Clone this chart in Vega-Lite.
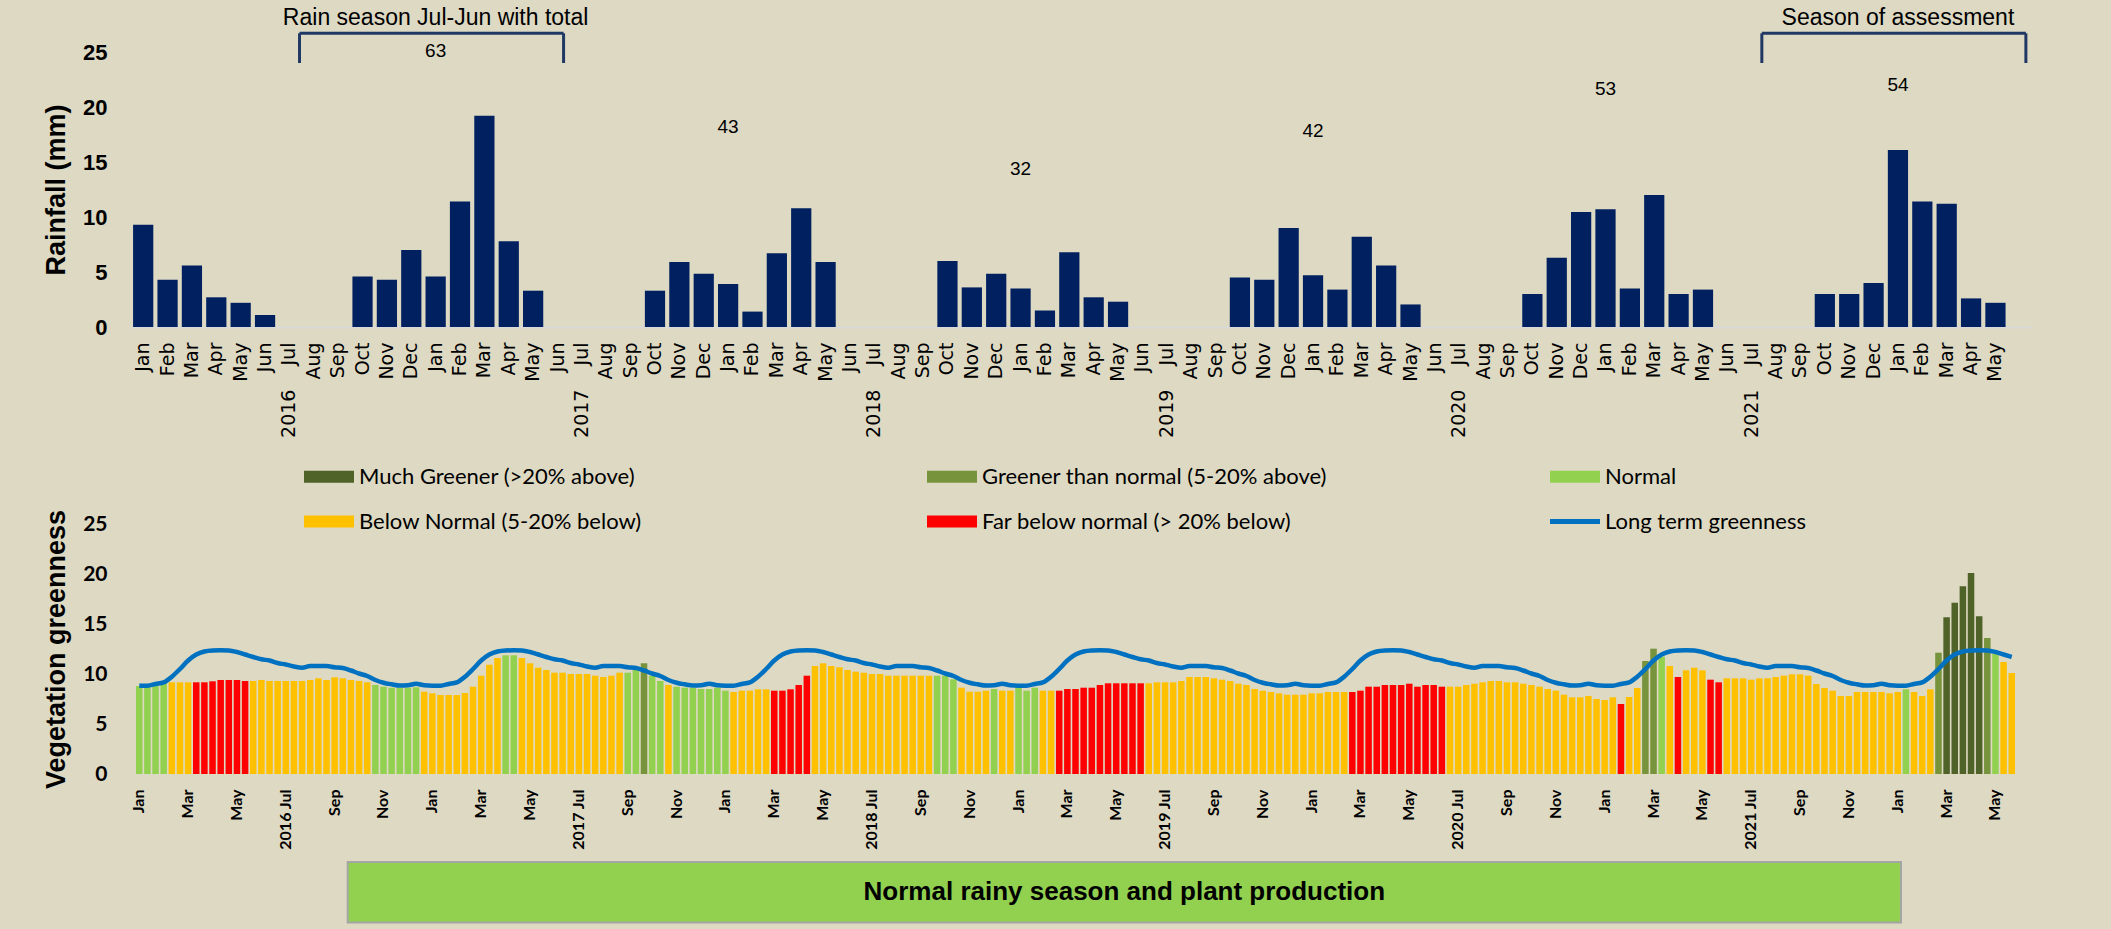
{
"$schema":"https://vega.github.io/schema/vega-lite/v6.json",
"background":"#DDD9C3",
"padding":{"left":42,"top":6,"right":80,"bottom":7},
"bounds":"flush",
"spacing":197,
"config":{"view":{"stroke":null},"font":"Liberation Sans","axis":{"labelColor":"#000000","titleColor":"#000000","grid":false}},
"datasets":{
"rain":[{"m":"2016-01","rain":9.3},{"m":"2016-02","rain":4.3},{"m":"2016-03","rain":5.6},{"m":"2016-04","rain":2.7},{"m":"2016-05","rain":2.2},{"m":"2016-06","rain":1.1},{"m":"2016-07","rain":0},{"m":"2016-08","rain":0},{"m":"2016-09","rain":0},{"m":"2016-10","rain":4.6},{"m":"2016-11","rain":4.3},{"m":"2016-12","rain":7.0},
{"m":"2017-01","rain":4.6},{"m":"2017-02","rain":11.4},{"m":"2017-03","rain":19.2},{"m":"2017-04","rain":7.8},{"m":"2017-05","rain":3.3},{"m":"2017-06","rain":0},{"m":"2017-07","rain":0},{"m":"2017-08","rain":0},{"m":"2017-09","rain":0},{"m":"2017-10","rain":3.3},{"m":"2017-11","rain":5.9},{"m":"2017-12","rain":4.85},
{"m":"2018-01","rain":3.9},{"m":"2018-02","rain":1.4},{"m":"2018-03","rain":6.7},{"m":"2018-04","rain":10.8},{"m":"2018-05","rain":5.9},{"m":"2018-06","rain":0},{"m":"2018-07","rain":0},{"m":"2018-08","rain":0},{"m":"2018-09","rain":0},{"m":"2018-10","rain":6.0},{"m":"2018-11","rain":3.6},{"m":"2018-12","rain":4.85},
{"m":"2019-01","rain":3.5},{"m":"2019-02","rain":1.5},{"m":"2019-03","rain":6.8},{"m":"2019-04","rain":2.7},{"m":"2019-05","rain":2.3},{"m":"2019-06","rain":0},{"m":"2019-07","rain":0},{"m":"2019-08","rain":0},{"m":"2019-09","rain":0},{"m":"2019-10","rain":4.5},{"m":"2019-11","rain":4.3},{"m":"2019-12","rain":9.0},
{"m":"2020-01","rain":4.7},{"m":"2020-02","rain":3.4},{"m":"2020-03","rain":8.2},{"m":"2020-04","rain":5.6},{"m":"2020-05","rain":2.05},{"m":"2020-06","rain":0},{"m":"2020-07","rain":0},{"m":"2020-08","rain":0},{"m":"2020-09","rain":0},{"m":"2020-10","rain":3.0},{"m":"2020-11","rain":6.3},{"m":"2020-12","rain":10.45},
{"m":"2021-01","rain":10.7},{"m":"2021-02","rain":3.5},{"m":"2021-03","rain":12.0},{"m":"2021-04","rain":3.0},{"m":"2021-05","rain":3.4},{"m":"2021-06","rain":0},{"m":"2021-07","rain":0},{"m":"2021-08","rain":0},{"m":"2021-09","rain":0},{"m":"2021-10","rain":3.0},{"m":"2021-11","rain":3.0},{"m":"2021-12","rain":4.0},
{"m":"2022-01","rain":16.1},{"m":"2022-02","rain":11.4},{"m":"2022-03","rain":11.2},{"m":"2022-04","rain":2.6},{"m":"2022-05","rain":2.2}],
"seasons":[{"s":"2016-07","e":"2017-06","m":"2017-01","label":"Rain season Jul-Jun with total"},{"s":"2021-07","e":"2022-06","m":"2022-01","label":"Season of assessment"}],
"totals":[{"m":"2017-01","t":63},{"m":"2018-01","t":43},{"m":"2019-01","t":32},{"m":"2020-01","t":42},{"m":"2021-01","t":53},{"m":"2022-01","t":54}],
"veg":[
{"d":"2016-01-1","v":8.8,"c":"N","lt":8.83},{"d":"2016-01-2","v":8.8,"c":"N","lt":8.83},{"d":"2016-01-3","v":8.97,"c":"N","lt":9.0},
{"d":"2016-02-1","v":9.07,"c":"N","lt":9.17},{"d":"2016-02-2","v":9.17,"c":"BN","lt":9.73},{"d":"2016-02-3","v":9.17,"c":"BN","lt":10.5},
{"d":"2016-03-1","v":9.17,"c":"BN","lt":11.35},{"d":"2016-03-2","v":9.17,"c":"FB","lt":11.95},{"d":"2016-03-3","v":9.17,"c":"FB","lt":12.25},
{"d":"2016-04-1","v":9.27,"c":"FB","lt":12.35},{"d":"2016-04-2","v":9.4,"c":"FB","lt":12.37},{"d":"2016-04-3","v":9.4,"c":"FB","lt":12.35},
{"d":"2016-05-1","v":9.4,"c":"FB","lt":12.2},{"d":"2016-05-2","v":9.3,"c":"FB","lt":11.95},{"d":"2016-05-3","v":9.3,"c":"BN","lt":11.7},
{"d":"2016-06-1","v":9.4,"c":"BN","lt":11.47},{"d":"2016-06-2","v":9.3,"c":"BN","lt":11.35},{"d":"2016-06-3","v":9.3,"c":"BN","lt":11.1},
{"d":"2016-07-1","v":9.3,"c":"BN","lt":10.95},{"d":"2016-07-2","v":9.3,"c":"BN","lt":10.75},{"d":"2016-07-3","v":9.3,"c":"BN","lt":10.63},
{"d":"2016-08-1","v":9.4,"c":"BN","lt":10.8},{"d":"2016-08-2","v":9.57,"c":"BN","lt":10.8},{"d":"2016-08-3","v":9.4,"c":"BN","lt":10.8},
{"d":"2016-09-1","v":9.67,"c":"BN","lt":10.67},{"d":"2016-09-2","v":9.57,"c":"BN","lt":10.6},{"d":"2016-09-3","v":9.4,"c":"BN","lt":10.35},
{"d":"2016-10-1","v":9.3,"c":"BN","lt":10.05},{"d":"2016-10-2","v":9.17,"c":"BN","lt":9.8},{"d":"2016-10-3","v":8.9,"c":"N","lt":9.4},
{"d":"2016-11-1","v":8.73,"c":"N","lt":9.13},{"d":"2016-11-2","v":8.63,"c":"N","lt":8.97},{"d":"2016-11-3","v":8.63,"c":"N","lt":8.85},
{"d":"2016-12-1","v":8.63,"c":"N","lt":8.87},{"d":"2016-12-2","v":8.67,"c":"N","lt":9.03},{"d":"2016-12-3","v":8.23,"c":"BN","lt":8.87},
{"d":"2017-01-1","v":8.07,"c":"BN","lt":8.83},{"d":"2017-01-2","v":7.9,"c":"BN","lt":8.83},{"d":"2017-01-3","v":7.9,"c":"BN","lt":9.0},
{"d":"2017-02-1","v":7.9,"c":"BN","lt":9.17},{"d":"2017-02-2","v":8.1,"c":"BN","lt":9.73},{"d":"2017-02-3","v":8.73,"c":"BN","lt":10.5},
{"d":"2017-03-1","v":9.83,"c":"BN","lt":11.35},{"d":"2017-03-2","v":10.93,"c":"BN","lt":11.95},{"d":"2017-03-3","v":11.6,"c":"BN","lt":12.25},
{"d":"2017-04-1","v":11.87,"c":"N","lt":12.35},{"d":"2017-04-2","v":11.87,"c":"N","lt":12.37},{"d":"2017-04-3","v":11.6,"c":"BN","lt":12.35},
{"d":"2017-05-1","v":11.07,"c":"BN","lt":12.2},{"d":"2017-05-2","v":10.63,"c":"BN","lt":11.95},{"d":"2017-05-3","v":10.4,"c":"BN","lt":11.7},
{"d":"2017-06-1","v":10.13,"c":"BN","lt":11.47},{"d":"2017-06-2","v":10.13,"c":"BN","lt":11.35},{"d":"2017-06-3","v":10.0,"c":"BN","lt":11.1},
{"d":"2017-07-1","v":10.0,"c":"BN","lt":10.95},{"d":"2017-07-2","v":10.0,"c":"BN","lt":10.75},{"d":"2017-07-3","v":9.83,"c":"BN","lt":10.63},
{"d":"2017-08-1","v":9.7,"c":"BN","lt":10.8},{"d":"2017-08-2","v":9.83,"c":"BN","lt":10.8},{"d":"2017-08-3","v":10.13,"c":"BN","lt":10.8},
{"d":"2017-09-1","v":10.13,"c":"N","lt":10.67},{"d":"2017-09-2","v":10.4,"c":"N","lt":10.6},{"d":"2017-09-3","v":11.07,"c":"GN","lt":10.35},
{"d":"2017-10-1","v":9.83,"c":"N","lt":10.05},{"d":"2017-10-2","v":9.3,"c":"N","lt":9.8},{"d":"2017-10-3","v":8.9,"c":"BN","lt":9.4},
{"d":"2017-11-1","v":8.73,"c":"N","lt":9.13},{"d":"2017-11-2","v":8.63,"c":"N","lt":8.97},{"d":"2017-11-3","v":8.63,"c":"N","lt":8.85},
{"d":"2017-12-1","v":8.5,"c":"N","lt":8.87},{"d":"2017-12-2","v":8.5,"c":"N","lt":9.03},{"d":"2017-12-3","v":8.63,"c":"N","lt":8.87},
{"d":"2018-01-1","v":8.33,"c":"N","lt":8.83},{"d":"2018-01-2","v":8.2,"c":"BN","lt":8.83},{"d":"2018-01-3","v":8.33,"c":"BN","lt":9.0},
{"d":"2018-02-1","v":8.33,"c":"BN","lt":9.17},{"d":"2018-02-2","v":8.47,"c":"BN","lt":9.73},{"d":"2018-02-3","v":8.47,"c":"BN","lt":10.5},
{"d":"2018-03-1","v":8.33,"c":"FB","lt":11.35},{"d":"2018-03-2","v":8.33,"c":"FB","lt":11.95},{"d":"2018-03-3","v":8.47,"c":"FB","lt":12.25},
{"d":"2018-04-1","v":8.9,"c":"FB","lt":12.35},{"d":"2018-04-2","v":9.83,"c":"FB","lt":12.37},{"d":"2018-04-3","v":10.8,"c":"BN","lt":12.35},
{"d":"2018-05-1","v":11.07,"c":"BN","lt":12.2},{"d":"2018-05-2","v":10.8,"c":"BN","lt":11.95},{"d":"2018-05-3","v":10.67,"c":"BN","lt":11.7},
{"d":"2018-06-1","v":10.4,"c":"BN","lt":11.47},{"d":"2018-06-2","v":10.23,"c":"BN","lt":11.35},{"d":"2018-06-3","v":10.13,"c":"BN","lt":11.1},
{"d":"2018-07-1","v":10.0,"c":"BN","lt":10.95},{"d":"2018-07-2","v":10.0,"c":"BN","lt":10.75},{"d":"2018-07-3","v":9.83,"c":"BN","lt":10.63},
{"d":"2018-08-1","v":9.83,"c":"BN","lt":10.8},{"d":"2018-08-2","v":9.83,"c":"BN","lt":10.8},{"d":"2018-08-3","v":9.83,"c":"BN","lt":10.8},
{"d":"2018-09-1","v":9.83,"c":"BN","lt":10.67},{"d":"2018-09-2","v":9.83,"c":"BN","lt":10.6},{"d":"2018-09-3","v":9.83,"c":"N","lt":10.35},
{"d":"2018-10-1","v":9.83,"c":"N","lt":10.05},{"d":"2018-10-2","v":9.47,"c":"N","lt":9.8},{"d":"2018-10-3","v":8.63,"c":"BN","lt":9.4},
{"d":"2018-11-1","v":8.23,"c":"BN","lt":9.13},{"d":"2018-11-2","v":8.23,"c":"BN","lt":8.97},{"d":"2018-11-3","v":8.33,"c":"BN","lt":8.85},
{"d":"2018-12-1","v":8.5,"c":"N","lt":8.87},{"d":"2018-12-2","v":8.33,"c":"BN","lt":9.03},{"d":"2018-12-3","v":8.33,"c":"BN","lt":8.87},
{"d":"2019-01-1","v":8.63,"c":"N","lt":8.83},{"d":"2019-01-2","v":8.33,"c":"N","lt":8.83},{"d":"2019-01-3","v":8.63,"c":"N","lt":9.0},
{"d":"2019-02-1","v":8.33,"c":"BN","lt":9.17},{"d":"2019-02-2","v":8.33,"c":"BN","lt":9.73},{"d":"2019-02-3","v":8.33,"c":"FB","lt":10.5},
{"d":"2019-03-1","v":8.5,"c":"FB","lt":11.35},{"d":"2019-03-2","v":8.5,"c":"FB","lt":11.95},{"d":"2019-03-3","v":8.63,"c":"FB","lt":12.25},
{"d":"2019-04-1","v":8.63,"c":"FB","lt":12.35},{"d":"2019-04-2","v":8.9,"c":"FB","lt":12.37},{"d":"2019-04-3","v":9.07,"c":"FB","lt":12.35},
{"d":"2019-05-1","v":9.07,"c":"FB","lt":12.2},{"d":"2019-05-2","v":9.07,"c":"FB","lt":11.95},{"d":"2019-05-3","v":9.07,"c":"FB","lt":11.7},
{"d":"2019-06-1","v":9.07,"c":"FB","lt":11.47},{"d":"2019-06-2","v":9.07,"c":"BN","lt":11.35},{"d":"2019-06-3","v":9.17,"c":"BN","lt":11.1},
{"d":"2019-07-1","v":9.17,"c":"BN","lt":10.95},{"d":"2019-07-2","v":9.17,"c":"BN","lt":10.75},{"d":"2019-07-3","v":9.3,"c":"BN","lt":10.63},
{"d":"2019-08-1","v":9.7,"c":"BN","lt":10.8},{"d":"2019-08-2","v":9.7,"c":"BN","lt":10.8},{"d":"2019-08-3","v":9.7,"c":"BN","lt":10.8},
{"d":"2019-09-1","v":9.57,"c":"BN","lt":10.67},{"d":"2019-09-2","v":9.43,"c":"BN","lt":10.6},{"d":"2019-09-3","v":9.3,"c":"BN","lt":10.35},
{"d":"2019-10-1","v":9.03,"c":"BN","lt":10.05},{"d":"2019-10-2","v":8.9,"c":"BN","lt":9.8},{"d":"2019-10-3","v":8.5,"c":"BN","lt":9.4},
{"d":"2019-11-1","v":8.33,"c":"BN","lt":9.13},{"d":"2019-11-2","v":8.2,"c":"BN","lt":8.97},{"d":"2019-11-3","v":8.07,"c":"BN","lt":8.85},
{"d":"2019-12-1","v":7.93,"c":"BN","lt":8.87},{"d":"2019-12-2","v":7.93,"c":"BN","lt":9.03},{"d":"2019-12-3","v":7.93,"c":"BN","lt":8.87},
{"d":"2020-01-1","v":8.07,"c":"BN","lt":8.83},{"d":"2020-01-2","v":8.07,"c":"BN","lt":8.83},{"d":"2020-01-3","v":8.2,"c":"BN","lt":9.0},
{"d":"2020-02-1","v":8.2,"c":"BN","lt":9.17},{"d":"2020-02-2","v":8.2,"c":"BN","lt":9.73},{"d":"2020-02-3","v":8.2,"c":"FB","lt":10.5},
{"d":"2020-03-1","v":8.33,"c":"FB","lt":11.35},{"d":"2020-03-2","v":8.73,"c":"FB","lt":11.95},{"d":"2020-03-3","v":8.73,"c":"FB","lt":12.25},
{"d":"2020-04-1","v":8.9,"c":"FB","lt":12.35},{"d":"2020-04-2","v":8.9,"c":"FB","lt":12.37},{"d":"2020-04-3","v":8.9,"c":"FB","lt":12.35},
{"d":"2020-05-1","v":9.03,"c":"FB","lt":12.2},{"d":"2020-05-2","v":8.73,"c":"FB","lt":11.95},{"d":"2020-05-3","v":8.9,"c":"FB","lt":11.7},
{"d":"2020-06-1","v":8.9,"c":"FB","lt":11.47},{"d":"2020-06-2","v":8.73,"c":"FB","lt":11.35},{"d":"2020-06-3","v":8.73,"c":"BN","lt":11.1},
{"d":"2020-07-1","v":8.73,"c":"BN","lt":10.95},{"d":"2020-07-2","v":8.9,"c":"BN","lt":10.75},{"d":"2020-07-3","v":9.03,"c":"BN","lt":10.63},
{"d":"2020-08-1","v":9.17,"c":"BN","lt":10.8},{"d":"2020-08-2","v":9.3,"c":"BN","lt":10.8},{"d":"2020-08-3","v":9.3,"c":"BN","lt":10.8},
{"d":"2020-09-1","v":9.17,"c":"BN","lt":10.67},{"d":"2020-09-2","v":9.17,"c":"BN","lt":10.6},{"d":"2020-09-3","v":9.03,"c":"BN","lt":10.35},
{"d":"2020-10-1","v":8.9,"c":"BN","lt":10.05},{"d":"2020-10-2","v":8.73,"c":"BN","lt":9.8},{"d":"2020-10-3","v":8.5,"c":"BN","lt":9.4},
{"d":"2020-11-1","v":8.33,"c":"BN","lt":9.13},{"d":"2020-11-2","v":7.93,"c":"BN","lt":8.97},{"d":"2020-11-3","v":7.67,"c":"BN","lt":8.85},
{"d":"2020-12-1","v":7.67,"c":"BN","lt":8.87},{"d":"2020-12-2","v":7.8,"c":"BN","lt":9.03},{"d":"2020-12-3","v":7.5,"c":"BN","lt":8.87},
{"d":"2021-01-1","v":7.4,"c":"BN","lt":8.83},{"d":"2021-01-2","v":7.67,"c":"BN","lt":8.83},{"d":"2021-01-3","v":7.0,"c":"FB","lt":9.0},
{"d":"2021-02-1","v":7.7,"c":"BN","lt":9.17},{"d":"2021-02-2","v":8.6,"c":"BN","lt":9.73},{"d":"2021-02-3","v":11.3,"c":"GN","lt":10.5},
{"d":"2021-03-1","v":12.53,"c":"GN","lt":11.35},{"d":"2021-03-2","v":11.73,"c":"N","lt":11.95},{"d":"2021-03-3","v":10.8,"c":"BN","lt":12.25},
{"d":"2021-04-1","v":9.7,"c":"FB","lt":12.35},{"d":"2021-04-2","v":10.37,"c":"BN","lt":12.37},{"d":"2021-04-3","v":10.63,"c":"BN","lt":12.35},
{"d":"2021-05-1","v":10.37,"c":"BN","lt":12.2},{"d":"2021-05-2","v":9.43,"c":"FB","lt":11.95},{"d":"2021-05-3","v":9.17,"c":"FB","lt":11.7},
{"d":"2021-06-1","v":9.57,"c":"BN","lt":11.47},{"d":"2021-06-2","v":9.57,"c":"BN","lt":11.35},{"d":"2021-06-3","v":9.57,"c":"BN","lt":11.1},
{"d":"2021-07-1","v":9.43,"c":"BN","lt":10.95},{"d":"2021-07-2","v":9.57,"c":"BN","lt":10.75},{"d":"2021-07-3","v":9.57,"c":"BN","lt":10.63},
{"d":"2021-08-1","v":9.7,"c":"BN","lt":10.8},{"d":"2021-08-2","v":9.83,"c":"BN","lt":10.8},{"d":"2021-08-3","v":9.97,"c":"BN","lt":10.8},
{"d":"2021-09-1","v":9.97,"c":"BN","lt":10.67},{"d":"2021-09-2","v":9.83,"c":"BN","lt":10.6},{"d":"2021-09-3","v":9.0,"c":"BN","lt":10.35},
{"d":"2021-10-1","v":8.6,"c":"BN","lt":10.05},{"d":"2021-10-2","v":8.33,"c":"BN","lt":9.8},{"d":"2021-10-3","v":7.8,"c":"BN","lt":9.4},
{"d":"2021-11-1","v":7.8,"c":"BN","lt":9.13},{"d":"2021-11-2","v":8.2,"c":"BN","lt":8.97},{"d":"2021-11-3","v":8.2,"c":"BN","lt":8.85},
{"d":"2021-12-1","v":8.2,"c":"BN","lt":8.87},{"d":"2021-12-2","v":8.2,"c":"BN","lt":9.03},{"d":"2021-12-3","v":8.07,"c":"BN","lt":8.87},
{"d":"2022-01-1","v":8.2,"c":"BN","lt":8.83},{"d":"2022-01-2","v":8.47,"c":"N","lt":8.83},{"d":"2022-01-3","v":8.2,"c":"BN","lt":9.0},
{"d":"2022-02-1","v":7.8,"c":"BN","lt":9.17},{"d":"2022-02-2","v":8.47,"c":"BN","lt":9.73},{"d":"2022-02-3","v":12.13,"c":"GN","lt":10.5},
{"d":"2022-03-1","v":15.67,"c":"MG","lt":11.35},{"d":"2022-03-2","v":17.13,"c":"MG","lt":11.95},{"d":"2022-03-3","v":18.77,"c":"MG","lt":12.25},
{"d":"2022-04-1","v":20.1,"c":"MG","lt":12.35},{"d":"2022-04-2","v":15.77,"c":"MG","lt":12.37},{"d":"2022-04-3","v":13.6,"c":"GN","lt":12.35},
{"d":"2022-05-1","v":12.0,"c":"N","lt":12.2},{"d":"2022-05-2","v":11.2,"c":"BN","lt":11.95},{"d":"2022-05-3","v":10.1,"c":"BN","lt":11.7}
]
},
"vconcat":[
{
"width":1901,"height":275,
"resolve":{"scale":{"y":"independent"}},
"layer":[
{"layer":[
{"data":{"name":"rain"},"mark":{"type":"bar","color":"#002060"},
"encoding":{
"x":{"field":"m","type":"ordinal","title":null,"scale":{"paddingInner":0.17,"paddingOuter":0.085},
"axis":{"labelAngle":270,"labelAlign":"right","labelBaseline":"middle","labelFont":"DejaVu Sans","labelFontSize":19,"labelPadding":15,"ticks":false,"domainColor":"#D9D9D9","domainWidth":2,"labelOverlap":false,"labelLimit":400,
"labelExpr":"datum.value == '2022-06' ? '' : substring(datum.value,5,7) == '07' ? substring(datum.value,0,4) + '\u00a0\u00a0\u00a0\u00a0Jul' : ['Jan','Feb','Mar','Apr','May','Jun','Jul','Aug','Sep','Oct','Nov','Dec'][toNumber(substring(datum.value,5,7)) - 1]"}},
"y":{"field":"rain","type":"quantitative","scale":{"domain":[0,25],"nice":false},
"axis":{"title":"Rainfall (mm)","titleFont":"Liberation Sans","titleFontSize":27,"titleFontWeight":"bold","titlePadding":12,"values":[0,5,10,15,20,25],"labelFont":"Liberation Sans","labelFontSize":22,"labelFontWeight":"bold","labelPadding":24,"ticks":false,"domain":false}}
}},
{"data":{"name":"seasons"},"mark":{"type":"rule","color":"#1F3864","strokeWidth":3},
"encoding":{"x":{"field":"s","type":"ordinal","bandPosition":1,"title":null},"x2":{"field":"e","bandPosition":0.8},"y":{"datum":26.7}}},
{"data":{"name":"seasons"},"mark":{"type":"rule","color":"#1F3864","strokeWidth":3},
"encoding":{"x":{"field":"s","type":"ordinal","bandPosition":1,"title":null},"y":{"datum":24.0},"y2":{"datum":26.7}}},
{"data":{"name":"seasons"},"mark":{"type":"rule","color":"#1F3864","strokeWidth":3},
"encoding":{"x":{"field":"e","type":"ordinal","bandPosition":0.8,"title":null},"y":{"datum":24.0},"y2":{"datum":26.7}}},
{"data":{"name":"seasons"},"mark":{"type":"text","fontSize":23,"color":"#000000","font":"Liberation Sans"},
"encoding":{"x":{"field":"m","type":"ordinal","title":null},"y":{"datum":28.1},"text":{"field":"label"}}}
]},
{"data":{"name":"totals"},"mark":{"type":"text","fontSize":19,"dy":-36,"color":"#000000","font":"Liberation Sans"},
"encoding":{"x":{"field":"m","type":"ordinal","title":null},"y":{"field":"t","type":"quantitative","scale":{"domain":[0,72.2],"nice":false},"axis":null},"text":{"field":"t"}}}
]
},
{
"width":1889,"height":250,
"layer":[
{"data":{"name":"veg"},"mark":{"type":"bar"},
"encoding":{
"x":{"field":"d","type":"ordinal","title":null,"scale":{"paddingInner":0.2,"paddingOuter":0.615},
"axis":{"labelAngle":270,"labelAlign":"right","labelBaseline":"middle","labelFont":"Lato","labelFontWeight":"bold","labelFontSize":16,"labelPadding":15,"ticks":false,"domain":false,"labelOverlap":false,"labelLimit":300,
"labelExpr":"substring(datum.value,8,9) == '1' && toNumber(substring(datum.value,5,7)) % 2 == 1 ? (substring(datum.value,5,7) == '07' ? substring(datum.value,0,4) + ' Jul' : ['Jan','Feb','Mar','Apr','May','Jun','Jul','Aug','Sep','Oct','Nov','Dec'][toNumber(substring(datum.value,5,7)) - 1]) : ''"}},
"y":{"field":"v","type":"quantitative","scale":{"domain":[0,25],"nice":false},
"axis":{"title":"Vegetation greenness","titleFont":"Liberation Sans","titleFontSize":27,"titleFontWeight":"bold","titlePadding":12,"values":[0,5,10,15,20,25],"labelFont":"Lato","labelFontSize":21,"labelFontWeight":"bold","labelPadding":24,"ticks":false,"domain":false}},
"color":{"field":"c","type":"nominal",
"scale":{"domain":["MG","GN","N","BN","FB","LT"],"range":["#4F6228","#77933C","#92D050","#FFC000","#FF0000","#0070C0"]},
"legend":{"orient":"none","legendX":185.5,"legendY":412,"direction":"horizontal","columns":3,"title":null,"gridAlign":"all","columnPadding":222,"rowPadding":21,
"symbolType":"M-2,-0.48H2V0.48H-2Z","symbolSize":625,"symbolStrokeWidth":0,"symbolOpacity":1,
"labelFont":"Lato","labelFontSize":22,"labelColor":"#000000","labelOffset":17.5,"labelLimit":600,
"labelExpr":"datum.label == 'MG' ? 'Much Greener (>20% above)' : datum.label == 'GN' ? 'Greener than normal (5-20% above)' : datum.label == 'N' ? 'Normal' : datum.label == 'BN' ? 'Below Normal (5-20% below)' : datum.label == 'FB' ? 'Far below normal (> 20% below)' : 'Long term greenness'",
"encode":{"symbols":{"update":{"shape":{"signal":"datum.value == 'LT' ? 'M-2,-0.2H2V0.2H-2Z' : 'M-2,-0.48H2V0.48H-2Z'"}}}}}}
}},
{"data":{"name":"veg"},"mark":{"type":"line","color":"#0070C0","strokeWidth":4.5,"interpolate":"monotone"},
"encoding":{"x":{"field":"d","type":"ordinal","title":null},"y":{"field":"lt","type":"quantitative"}}},
{"data":{"values":[{"label":"Normal rainy season and plant production"}]},"mark":{"type":"rect","fill":"#92D050","stroke":"#A5A5A5","strokeWidth":2},
"encoding":{"x":{"datum":"2016-09-3","type":"ordinal","bandPosition":0},"x2":{"datum":"2022-01-1","bandPosition":1},"y":{"datum":-8.8},"y2":{"datum":-14.85}}},
{"data":{"values":[{"label":"Normal rainy season and plant production"}]},"mark":{"type":"text","fontSize":26,"fontWeight":"bold","color":"#000000","font":"Liberation Sans"},
"encoding":{"x":{"datum":"2019-05-2","type":"ordinal"},"y":{"datum":-11.8},"text":{"field":"label"}}}
]
}
]
}
